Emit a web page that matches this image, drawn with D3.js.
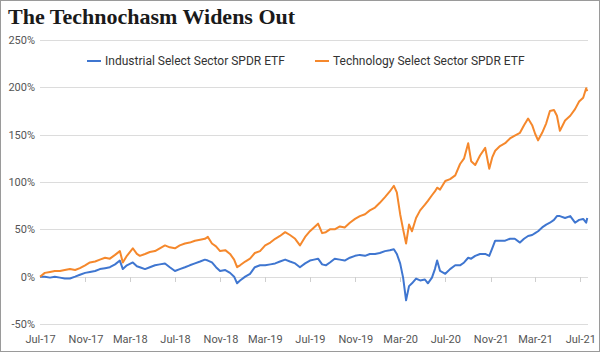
<!DOCTYPE html>
<html>
<head>
<meta charset="utf-8">
<script src="https://cdn.jsdelivr.net/npm/d3@7"></script>
<style>
  body { margin: 0; background: #fff; }
  svg { display: block; font-family: Roboto, sans-serif; }
</style>
</head>
<body>
<script>
const width = 600;
const height = 352;

const seriesNames = ['Industrial Select Sector SPDR ETF', 'Technology Select Sector SPDR ETF'];
const seriesColors = ['#3f76d0', '#f5882c'];

// dates, roughly every two weeks with extra points at the turns
const dates = [
  '2017-07-01','2017-07-14','2017-07-28','2017-08-10','2017-08-24','2017-09-06','2017-09-20','2017-10-04',
  '2017-10-17','2017-10-31','2017-11-13','2017-11-27','2017-12-10','2017-12-24','2018-01-06','2018-01-20',
  '2018-02-02','2018-02-10','2018-02-21','2018-03-09','2018-03-20','2018-03-28','2018-04-11','2018-04-24',
  '2018-05-08','2018-05-21','2018-06-04','2018-06-17','2018-07-01','2018-07-14','2018-07-28','2018-08-10',
  '2018-08-24','2018-09-07','2018-09-20','2018-09-28','2018-10-09','2018-10-20','2018-10-31','2018-11-14',
  '2018-11-27','2018-12-08','2018-12-16','2018-12-24','2019-01-07','2019-01-20','2019-02-02','2019-02-16',
  '2019-03-02','2019-03-16','2019-03-29','2019-04-11','2019-04-25','2019-05-08','2019-05-22','2019-06-04',
  '2019-06-18','2019-07-01','2019-07-12','2019-07-23','2019-08-03','2019-08-13','2019-08-24','2019-09-06',
  '2019-09-20','2019-10-03','2019-10-17','2019-10-31','2019-11-13','2019-11-27','2019-12-10','2019-12-24',
  '2020-01-06','2020-01-20','2020-02-02','2020-02-13','2020-02-21','2020-03-01','2020-03-09','2020-03-17',
  '2020-03-25','2020-04-02','2020-04-13','2020-04-24','2020-05-07','2020-05-15','2020-05-26','2020-06-03',
  '2020-06-09','2020-06-17','2020-07-01','2020-07-14','2020-07-28','2020-08-10','2020-08-21','2020-09-01',
  '2020-09-09','2020-09-20','2020-10-03','2020-10-17','2020-10-28','2020-11-05','2020-11-13','2020-11-26',
  '2020-12-10','2020-12-23','2021-01-05','2021-01-19','2021-01-30','2021-02-10','2021-02-21','2021-03-01',
  '2021-03-09','2021-03-20','2021-03-31','2021-04-10','2021-04-21','2021-04-29','2021-05-07','2021-05-21',
  '2021-06-04','2021-06-17','2021-06-28','2021-07-09','2021-07-17','2021-07-20'
];

// cumulative return, %
const industrial = [
  0, 0, -1, 0, -1, -2, -2, 0,
  2, 4, 5, 6, 8, 9, 10, 13,
  17, 8, 12, 15, 11, 10, 8, 10,
  12, 13, 14, 10, 6, 8, 10, 12,
  14, 16, 18, 17, 15, 10, 6, 7,
  4, 0, -7, -4, 0, 3, 10, 12,
  12, 13, 14, 16, 18, 16, 14, 10,
  14, 17, 18, 19, 13, 12, 15, 19,
  18, 17, 20, 22, 23, 22, 24, 24,
  25, 27, 28, 29, 24, 14, -1, -25,
  -10, -7, -2, -4, -3, -7, -1, 8,
  17, 6, 3, 8, 12, 12, 15, 20,
  19, 22, 24, 24, 22, 30, 38, 38,
  38, 40, 40, 36, 40, 43, 44, 46,
  48, 52, 55, 57, 60, 64, 64, 62,
  64, 57, 60, 61, 57, 62
];

const technology = [
  0, 4, 5, 6, 6, 7, 8, 7,
  9, 12, 15, 16, 18, 20, 19, 23,
  27, 15, 22, 30, 24, 22, 24, 26,
  27, 30, 33, 31, 30, 33, 35, 36,
  38, 39, 40, 42, 35, 32, 27, 28,
  24, 18, 10, 12, 16, 19, 25, 27,
  33, 36, 40, 43, 47, 44, 40, 33,
  42, 48, 52, 56, 46, 47, 50, 50,
  53, 52, 57, 61, 64, 66, 70, 73,
  78, 84, 90, 96, 89, 66, 50, 35,
  55, 48, 62, 70, 76, 80, 86, 90,
  94, 92, 101, 103, 107, 119, 125, 141,
  122, 118, 128, 136, 114, 126, 133, 138,
  141, 146, 149, 152, 160, 167, 160, 151,
  144, 152, 162, 175, 176, 170, 154, 165,
  170, 177, 185, 189, 199, 196
];

const yTicks = [-50, 0, 50, 100, 150, 200, 250];
const xTickDates = ['2017-07-01','2017-11-01','2018-03-01','2018-07-01','2018-11-01','2019-03-01','2019-07-01',
  '2019-11-01','2020-03-01','2020-07-01','2020-11-01','2021-03-01','2021-07-01'];
const xTickLabels = ['Jul-17','Nov-17','Mar-18','Jul-18','Nov-18','Mar-19','Jul-19',
  'Nov-19','Mar-20','Jul-20','Nov-21','Mar-21','Jul-21'];

const parse = d3.timeParse('%Y-%m-%d');

const svg = d3.select('body').append('svg')
  .attr('width', width)
  .attr('height', height);

// cadre
svg.append('rect')
  .attr('x', 0.5).attr('y', 0.5)
  .attr('width', width - 1).attr('height', height - 1)
  .attr('fill', '#fff')
  .attr('stroke', '#9a9a9a');

svg.append('text')
  .attr('x', 8)
  .attr('y', 24)
  .attr('font-family', '"Liberation Serif", serif')
  .attr('font-weight', 'bold')
  .attr('font-size', 22)
  .attr('fill', '#1a1a1a')
  .text('The Technochasm Widens Out');

const x = d3.scaleTime()
  .domain([parse('2017-07-01'), parse('2021-07-22')])
  .range([40, 588]);

const y = d3.scaleLinear()
  .domain([-50, 250])
  .range([324, 40]);

// grille
svg.append('g')
  .selectAll('line')
  .data(yTicks)
  .enter()
  .append('line')
  .attr('x1', 40).attr('x2', 588)
  .attr('y1', d => Math.round(y(d)) + 0.5)
  .attr('y2', d => Math.round(y(d)) + 0.5)
  .attr('stroke', '#dcdcdc')
  .attr('stroke-width', 1);

// labels axe y
svg.append('g')
  .selectAll('text')
  .data(yTicks)
  .enter()
  .append('text')
  .attr('x', 35)
  .attr('y', d => y(d) + 4)
  .attr('text-anchor', 'end')
  .attr('font-size', 11)
  .attr('fill', '#555')
  .text(d => d + '%');

// petites graduations sur la ligne du zéro
svg.append('g')
  .selectAll('line')
  .data(xTickDates.slice(1))
  .enter()
  .append('line')
  .attr('x1', d => Math.round(x(parse(d))) + 0.5)
  .attr('x2', d => Math.round(x(parse(d))) + 0.5)
  .attr('y1', Math.round(y(0)))
  .attr('y2', Math.round(y(0)) + 5)
  .attr('stroke', '#cfcfcf');

// labels axe x
const xAxis = d3.axisBottom(x)
  .tickValues(xTickDates.map(parse))
  .tickSize(0)
  .tickPadding(0)
  .tickFormat((d, i) => xTickLabels[i]);

const gx = svg.append('g')
  .attr('transform', 'translate(0, 335)')
  .call(xAxis);
gx.select('.domain').remove();
gx.selectAll('text')
  .attr('font-family', 'Roboto, sans-serif')
  .attr('font-size', 11)
  .attr('fill', '#555');

// les lignes
const rows = dates.map((d, i) => ({ date: parse(d), values: [industrial[i], technology[i]] }));

seriesNames.forEach((name, k) => {
  const line = d3.line()
    .x(d => x(d.date))
    .y(d => y(d.values[k]));
  svg.append('path')
    .datum(rows)
    .attr('fill', 'none')
    .attr('stroke', seriesColors[k])
    .attr('stroke-width', 2)
    .attr('stroke-linejoin', 'round')
    .attr('d', line);
});

// la légende
const legendX = [87, 315];
const legend = svg.append('g')
  .attr('transform', 'translate(0, 61)');

legend.selectAll('line')
  .data(seriesNames)
  .enter()
  .append('line')
  .attr('x1', (d, i) => legendX[i])
  .attr('x2', (d, i) => legendX[i] + 14)
  .attr('stroke', (d, i) => seriesColors[i])
  .attr('stroke-width', 2);

legend.selectAll('text')
  .data(seriesNames)
  .enter()
  .append('text')
  .attr('x', (d, i) => legendX[i] + 18)
  .attr('y', 4)
  .attr('font-size', 12)
  .attr('fill', '#333')
  .text(d => d);
</script>
</body>
</html>
